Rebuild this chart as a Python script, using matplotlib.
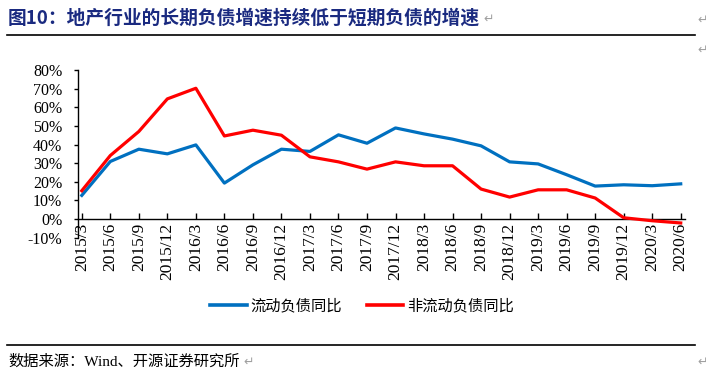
import matplotlib
matplotlib.use("Agg")
import matplotlib.pyplot as plt
from matplotlib.lines import Line2D

plt.rcParams['font.family'] = ['Noto Sans CJK SC', 'DejaVu Sans']

categories = ["2015/3", "2015/6", "2015/9", "2015/12", "2016/3", "2016/6", "2016/9",
              "2016/12", "2017/3", "2017/6", "2017/9", "2017/12", "2018/3", "2018/6",
              "2018/9", "2018/12", "2019/3", "2019/6", "2019/9", "2019/12", "2020/3", "2020/6"]
current_liab = [12.7, 30.9, 37.5, 35.0, 39.8, 19.3, 29.1, 37.5, 36.3, 45.2, 40.7, 48.9,
                45.7, 42.9, 39.3, 30.7, 29.6, 23.8, 17.7, 18.4, 17.9, 18.9]
noncurrent_liab = [15.2, 34.1, 47.0, 64.5, 70.2, 44.6, 47.7, 45.0, 33.4, 30.7, 26.8, 30.7,
                   28.6, 28.6, 16.1, 11.8, 15.7, 15.7, 11.3, 0.7, -0.9, -2.1]
series_names = ["流动负债同比", "非流动负债同比"]
yticks = [-10, 0, 10, 20, 30, 40, 50, 60, 70, 80]

title = "图10：地产行业的长期负债增速持续低于短期负债的增速"
source = "数据来源：Wind、开源证券研究所"

W, H = 706, 385
fig = plt.figure(figsize=(W / 100, H / 100), dpi=100)
ax = fig.add_axes([77.5 / W, 1 - 237.7 / H, (685 - 77.5) / W, (237.7 - 70) / H])

ax.spines['top'].set_visible(False)
ax.spines['right'].set_visible(False)
ax.spines['bottom'].set_position(('data', 0))
ax.spines['left'].set_linewidth(1.0)
ax.spines['bottom'].set_linewidth(1.0)

x = list(range(len(categories)))
blue = "#0070C0"
red = "#FF0000"
ax.plot(x, current_liab, color=blue, lw=2.3, solid_joinstyle='round', zorder=3)
ax.plot(x, noncurrent_liab, color=red, lw=2.3, solid_joinstyle='round', zorder=3)

ax.set_ylim(-10, 80)
ax.set_xlim(-0.15, len(categories) - 1 + 0.15)
ax.set_yticks(yticks)
ax.set_yticklabels([f"{v}%" for v in yticks], family='Liberation Serif', fontsize=11.5)
ax.set_xticks(x)
ax.set_xticklabels(categories, rotation=90, family='Liberation Serif', fontsize=12.5,
                   va='top', ha='center')
ax.tick_params(axis='x', direction='in', length=4, width=1, pad=3)
ax.tick_params(axis='y', direction='out', length=3, width=1, pad=8)

handles = [Line2D([], [], color=blue, lw=2.6), Line2D([], [], color=red, lw=2.6)]
fig.legend(handles, series_names, loc='center', bbox_to_anchor=(362 / W, 1 - 306 / H),
           ncol=2, frameon=False, fontsize=11, handlelength=2.4, handletextpad=0.25,
           columnspacing=1.6)

# title and rules
fig.text(8 / W, 1 - 18 / H, title, fontsize=13.5, fontweight='bold', color='#1A2A80',
         ha='left', va='center')
fig.text(483 / W, 1 - 19 / H, "↵", fontsize=9, color='#A0A0A0', ha='left', va='center',
         family=['DejaVu Sans'])
fig.add_artist(Line2D([7 / W, 695 / W], [1 - 35 / H, 1 - 35 / H], color='black', lw=1.2))
fig.text(697 / W, 1 - 20 / H, "↵", fontsize=9, color='#A0A0A0', ha='left', va='center',
         family=['DejaVu Sans'])
fig.text(697 / W, 1 - 50 / H, "↵", fontsize=9, color='#A0A0A0', ha='left', va='center',
         family=['DejaVu Sans'])

fig.add_artist(Line2D([7 / W, 695 / W], [1 - 345 / H, 1 - 345 / H], color='black', lw=1.2))
fig.text(8 / W, 1 - 362 / H, source, fontsize=11, color='black', ha='left', va='center',
         family=['Liberation Serif', 'Noto Sans CJK SC'])
fig.text(243 / W, 1 - 362 / H, "↵", fontsize=9, color='#A0A0A0', ha='left', va='center',
         family=['DejaVu Sans'])
fig.text(697 / W, 1 - 362 / H, "↵", fontsize=9, color='#A0A0A0', ha='left', va='center',
         family=['DejaVu Sans'])

fig.savefig("out.png", dpi=100)
